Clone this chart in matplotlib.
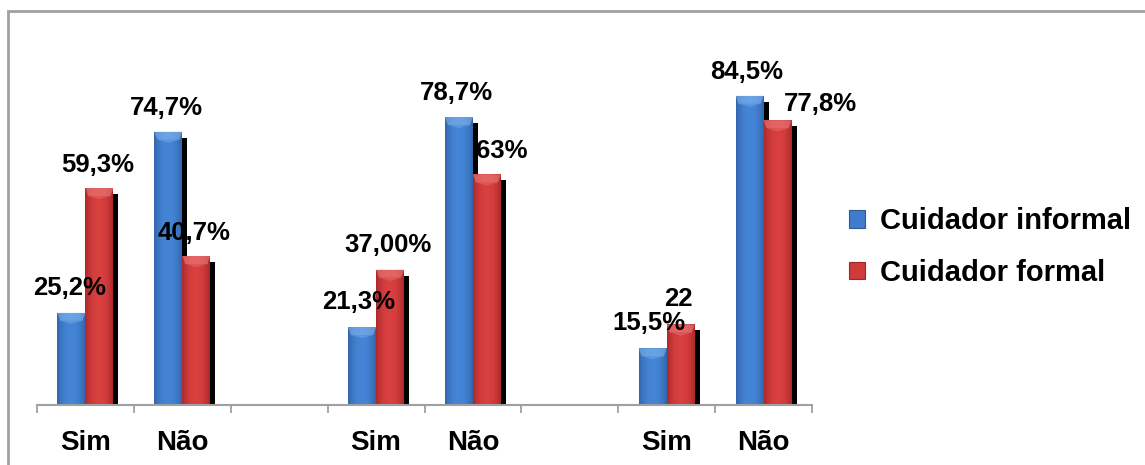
import numpy as np
import matplotlib.pyplot as plt
from matplotlib.patches import Rectangle, Polygon, Patch

# data
categories = ['Sim', 'Não', '', 'Sim', 'Não', '', 'Sim', 'Não']
positions = [0, 1, 3, 4, 6, 7]
tick_labels = ['Sim', 'Não', 'Sim', 'Não', 'Sim', 'Não']
informal = [25.2, 74.7, 21.3, 78.7, 15.5, 84.5]
formal = [59.3, 40.7, 37.0, 63.0, 22.0, 77.8]
informal_labels = ['25,2%', '74,7%', '21,3%', '78,7%', '15,5%', '84,5%']
formal_labels = ['59,3%', '40,7%', '37,00%', '63%', '22', '77,8%']

# label nudges in pixels (dx, dy above bar top)
informal_dx = [-2, -2, -3, -3, -4, -3]
informal_dy = [25, 24, 25, 24, 25, 24]
formal_dx = [-2, -2, -2, 15, -2, 43]
formal_dy = [23, 23, 25, 23, 25, 16]

plt.rcParams['font.family'] = ['Liberation Sans', 'DejaVu Sans']
plt.rcParams['font.weight'] = 'bold'

W, H, DPI = 1145, 465, 100
fig = plt.figure(figsize=(W / DPI, H / DPI), dpi=DPI)
fig.patch.set_facecolor('white')

# outer frame (only left and top edges are visible)
fig.add_artist(Rectangle((8 / W, -0.1), 1.2, 1 - 11 / H + 0.1, transform=fig.transFigure,
                         fill=False, ec='#a0a0a0', lw=2))

ax = fig.add_axes([37 / W, 60 / H, 775 / W, 366 / H])
ax.set_xlim(-0.5, 7.5)
ax.set_ylim(0, 100)
ax.patch.set_alpha(0)

bw = 0.289
px_x = 8 / 775      # data units per pixel horizontally
px_y = 100 / 366    # data units per pixel vertically


def shade(base, dark, n=32):
    t = np.linspace(-1, 1, n)
    w = (1 - np.abs(t) ** 2.2)[:, None]
    base = np.array(base)
    dark = np.array(dark)
    return (dark + (base - dark) * w)[None, :, :]


blue_grad = shade((0.27, 0.52, 0.84), (0.20, 0.40, 0.68))
red_grad = shade((0.85, 0.25, 0.25), (0.68, 0.16, 0.17))


def draw_bar(x0, h, grad, light):
    # black drop shadow behind, offset right and down
    ax.add_patch(Rectangle((x0 + 5 * px_x, -0.6), bw, h - 6 * px_y + 0.6,
                           fc='black', ec='none', zorder=1))
    r = Rectangle((x0, 0), bw, h, fc='none', ec='none', zorder=2)
    ax.add_patch(r)
    im = ax.imshow(grad, extent=(x0, x0 + bw, 0, h), aspect='auto', zorder=2,
                   interpolation='bilinear')
    im.set_clip_path(r)
    # bevel on top
    bev = 8 * px_y
    ax.add_patch(Polygon([(x0, h), (x0 + bw, h), (x0 + bw - 0.03, h - bev),
                          (x0 + 0.03, h - bev)], closed=True, fc=light, ec='none',
                         alpha=0.5, zorder=3))
    ax.add_patch(Polygon([(x0 + 0.03, h - bev), (x0 + bw - 0.03, h - bev),
                          (x0 + bw / 2, h - bev * 1.4)], closed=True, fc=light,
                         ec='none', alpha=0.3, zorder=3))


for i, p in enumerate(positions):
    draw_bar(p - bw, informal[i], blue_grad, '#8fc0f5')
for i, p in enumerate(positions):
    draw_bar(p, formal[i], red_grad, '#f08a8a')

for i, p in enumerate(positions):
    ax.annotate(informal_labels[i], (p - bw / 2, informal[i]),
                xytext=(informal_dx[i] * 0.72, informal_dy[i] * 0.72),
                textcoords='offset points', ha='center', va='center',
                fontsize=18.5, fontweight='bold', zorder=5)
    ax.annotate(formal_labels[i], (p + bw / 2, formal[i]),
                xytext=(formal_dx[i] * 0.72, formal_dy[i] * 0.72),
                textcoords='offset points', ha='center', va='center',
                fontsize=18.5, fontweight='bold', zorder=5)

ax.set_xticks(positions)
ax.set_xticklabels(tick_labels, fontsize=20, fontweight='bold')
ax.tick_params(axis='x', which='major', length=0, pad=18)
ax.set_xticks(np.arange(-0.5, 8, 1), minor=True)
ax.tick_params(axis='x', which='minor', length=6, width=1.3, color='#a0a0a0')
ax.set_yticks([])
for s in ('top', 'right', 'left'):
    ax.spines[s].set_visible(False)
ax.spines['bottom'].set_color('#a0a0a0')
ax.spines['bottom'].set_linewidth(1.5)

handles = [Patch(fc='#3f7ccc', ec='#2c5a96', lw=0.8),
           Patch(fc='#cf3a3a', ec='#962828', lw=0.8)]
fig.legend(handles, ['Cuidador informal', 'Cuidador formal'],
           loc='center left', bbox_to_anchor=(823 / W, 1 - 247 / H),
           frameon=False, prop={'size': 21, 'weight': 'bold'},
           handlelength=0.55, handleheight=0.55, handletextpad=0.5,
           labelspacing=0.8)

fig.savefig('out.png', dpi=DPI)
